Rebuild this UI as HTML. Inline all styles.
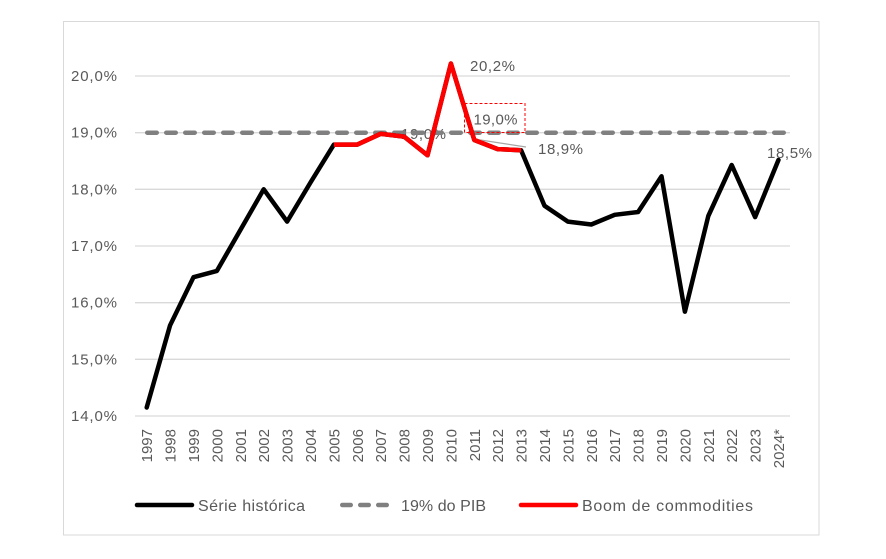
<!DOCTYPE html>
<html><head><meta charset="utf-8"><style>
html,body{margin:0;padding:0;background:#fff;}
svg{display:block;}
text{font-family:"Liberation Sans",sans-serif;fill:#595959;}
</style></head><body>
<svg width="886" height="559" viewBox="0 0 886 559" xmlns="http://www.w3.org/2000/svg">
<rect x="0" y="0" width="886" height="559" fill="#fff"/>
<rect x="63.5" y="21.5" width="755.5" height="513.5" fill="#fff" stroke="#d9d9d9" stroke-width="1"/>
<!-- gridlines -->
<g stroke="#d9d9d9" stroke-width="1.3">
<line x1="135" y1="76" x2="790" y2="76"/>
<line x1="135" y1="132.7" x2="790" y2="132.7"/>
<line x1="135" y1="189.3" x2="790" y2="189.3"/>
<line x1="135" y1="246" x2="790" y2="246"/>
<line x1="135" y1="302.7" x2="790" y2="302.7"/>
<line x1="135" y1="359.3" x2="790" y2="359.3"/>
<line x1="135" y1="416" x2="790" y2="416"/>
</g>
<!-- y labels -->
<g font-size="15" text-anchor="end">
<text x="117" y="81" textLength="46">20,0%</text>
<text x="117" y="137.7" textLength="46">19,0%</text>
<text x="117" y="194.3" textLength="46">18,0%</text>
<text x="117" y="251" textLength="46">17,0%</text>
<text x="117" y="307.7" textLength="46">16,0%</text>
<text x="117" y="364.3" textLength="46">15,0%</text>
<text x="117" y="421" textLength="46">14,0%</text>
</g>
<!-- x labels -->
<g font-size="15" text-anchor="end">
<text transform="translate(152.2,429) rotate(-90)">1997</text>
<text transform="translate(175.6,429) rotate(-90)">1998</text>
<text transform="translate(199,429) rotate(-90)">1999</text>
<text transform="translate(222.4,429) rotate(-90)">2000</text>
<text transform="translate(245.8,429) rotate(-90)">2001</text>
<text transform="translate(269.2,429) rotate(-90)">2002</text>
<text transform="translate(292.6,429) rotate(-90)">2003</text>
<text transform="translate(316,429) rotate(-90)">2004</text>
<text transform="translate(339.4,429) rotate(-90)">2005</text>
<text transform="translate(362.8,429) rotate(-90)">2006</text>
<text transform="translate(386.2,429) rotate(-90)">2007</text>
<text transform="translate(409.6,429) rotate(-90)">2008</text>
<text transform="translate(433,429) rotate(-90)">2009</text>
<text transform="translate(456.4,429) rotate(-90)">2010</text>
<text transform="translate(479.8,429) rotate(-90)">2011</text>
<text transform="translate(503.2,429) rotate(-90)">2012</text>
<text transform="translate(526.6,429) rotate(-90)">2013</text>
<text transform="translate(550,429) rotate(-90)">2014</text>
<text transform="translate(573.4,429) rotate(-90)">2015</text>
<text transform="translate(596.8,429) rotate(-90)">2016</text>
<text transform="translate(620.2,429) rotate(-90)">2017</text>
<text transform="translate(643.6,429) rotate(-90)">2018</text>
<text transform="translate(667,429) rotate(-90)">2019</text>
<text transform="translate(690.4,429) rotate(-90)">2020</text>
<text transform="translate(713.8,429) rotate(-90)">2021</text>
<text transform="translate(737.2,429) rotate(-90)">2022</text>
<text transform="translate(760.6,429) rotate(-90)">2023</text>
<text transform="translate(784,429) rotate(-90)">2024*</text>
</g>
<!-- label under lines -->
<text x="401" y="139" font-size="15" textLength="45">19,0%</text>
<!-- dashed 19% line -->
<line x1="147.25" y1="132.7" x2="790" y2="132.7" stroke="#808080" stroke-width="4.5" stroke-dasharray="9.5 9.5" stroke-linecap="round"/>
<!-- black series -->
<polyline fill="none" stroke="#000" stroke-width="4.5" stroke-linejoin="round" stroke-linecap="round"
points="146.7,407.5 170.1,325.3 193.5,277.2 216.9,270.9 240.3,230.1 263.7,189.3 287.1,221.6 310.5,182.5 333.9,144.6 357.3,144.6 380.7,133.8 404.1,136.6 427.5,155.3 450.9,63.5 474.3,140 497.7,149.1 521.1,150.2 544.5,205.8 567.9,221.6 591.3,224.5 614.7,214.8 638.1,212 661.5,176.3 684.9,311.7 708.3,216 731.7,165 755.1,217.1 778.5,159.9"/>
<!-- leader line -->
<line x1="474" y1="139" x2="526" y2="147" stroke="#a6a6a6" stroke-width="1.2"/>
<!-- red series -->
<polyline fill="none" stroke="#ff0000" stroke-width="4.5" stroke-linejoin="round"
points="333.9,144.6 357.3,144.6 380.7,133.8 404.1,136.6 427.5,155.3 450.9,63.5 474.3,140 497.7,149.1 521.1,150.2"/>
<!-- data labels -->
<g font-size="15">
<text x="470" y="71" textLength="45">20,2%</text>
<text x="473.5" y="124.3" textLength="44">19,0%</text>
<text x="538" y="154" textLength="45">18,9%</text>
<text x="767" y="158" textLength="45">18,5%</text>
</g>
<rect x="464.5" y="103.5" width="60.5" height="29" fill="none" stroke="#ff0000" stroke-width="1" stroke-dasharray="3 2"/>
<!-- legend -->
<line x1="137" y1="505" x2="192" y2="505" stroke="#000" stroke-width="4.5" stroke-linecap="round"/>
<text x="198" y="511" font-size="16" textLength="107">Série histórica</text>
<line x1="342.25" y1="505" x2="389" y2="505" stroke="#808080" stroke-width="4.5" stroke-dasharray="8.5 9.5" stroke-linecap="round"/>
<text x="401" y="511" font-size="16" textLength="85">19% do PIB</text>
<line x1="521" y1="505" x2="576" y2="505" stroke="#ff0000" stroke-width="4.5" stroke-linecap="round"/>
<text x="582" y="511" font-size="16" textLength="171">Boom de commodities</text>
</svg>
</body></html>
